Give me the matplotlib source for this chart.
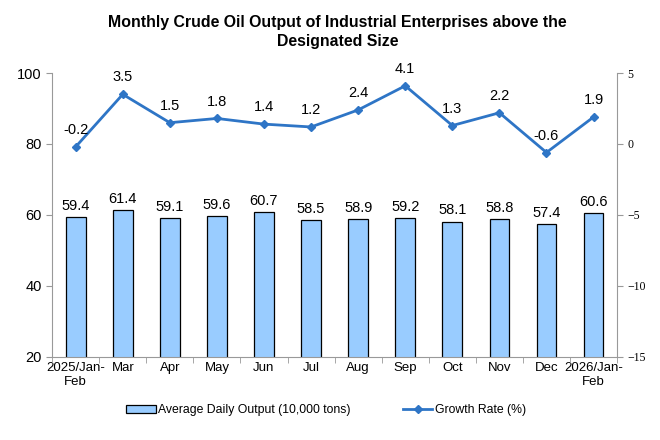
import matplotlib
matplotlib.use("Agg")
import matplotlib.pyplot as plt
import numpy as np

plt.rcParams['font.family'] = ['Liberation Sans', 'DejaVu Sans']

months = ['2025/Jan-\nFeb', 'Mar', 'Apr', 'May', 'Jun', 'Jul', 'Aug', 'Sep',
          'Oct', 'Nov', 'Dec', '2026/Jan-\nFeb']
output = [59.4, 61.4, 59.1, 59.6, 60.7, 58.5, 58.9, 59.2, 58.1, 58.8, 57.4, 60.6]
growth = [-0.2, 3.5, 1.5, 1.8, 1.4, 1.2, 2.4, 4.1, 1.3, 2.2, -0.6, 1.9]

fig = plt.figure(figsize=(6.6, 4.4), dpi=100)
ax = fig.add_axes([0.079, 0.189, 0.856, 0.645])
x = np.arange(len(months))

bars = ax.bar(x, output, width=0.42, color='#99CCFF', edgecolor='black',
              linewidth=0.9, label='Average Daily Output (10,000 tons)', zorder=2)
for xi, v in zip(x, output):
    ax.text(xi, v + 1.2, f'{v}', ha='center', va='bottom', fontsize=10.5)

ax.set_ylim(20, 100)
ax.set_yticks([20, 40, 60, 80, 100])
ax.set_xlim(-0.5, len(months) - 0.5)
ax.set_xticks(x)
ax.set_xticklabels(months, fontsize=9.5)
ax.set_xticks(np.arange(-0.5, len(months), 1), minor=True)
ax.tick_params(axis='x', which='major', length=0, pad=4)
ax.tick_params(axis='x', which='minor', length=4, color='#999999')
ax.tick_params(axis='y', labelsize=10.5, length=4, color='#999999')
for s in ['top', 'right']:
    ax.spines[s].set_visible(False)
for s in ['left', 'bottom']:
    ax.spines[s].set_color('#999999')

ax2 = ax.twinx()
line, = ax2.plot(x, growth, color='#2E75C6', linewidth=2, marker='D',
                 markersize=4, label='Growth Rate (%)', zorder=3)
for xi, v in zip(x, growth):
    ax2.text(xi, v + 0.7, f'{v}', ha='center', va='bottom', fontsize=10.5)
ax2.set_ylim(-15, 5)
ax2.set_yticks([5, 0, -5, -10, -15])
ax2.tick_params(axis='y', length=4, color='#999999', labelsize=8.5)
for lab in ax2.get_yticklabels():
    lab.set_fontfamily('Liberation Serif')
for s in ['top', 'left', 'bottom']:
    ax2.spines[s].set_visible(False)
ax2.spines['right'].set_color('#999999')

fig.text(0.511, 0.965, 'Monthly Crude Oil Output of Industrial Enterprises above the\nDesignated Size',
         ha='center', va='top', fontsize=11.4, fontweight='bold', linespacing=1.3)

fig.legend([bars, line], ['Average Daily Output (10,000 tons)', 'Growth Rate (%)'],
           loc='center', bbox_to_anchor=(0.494, 0.068), ncol=2, frameon=False,
           fontsize=8.8, columnspacing=4.3, handlelength=2.4, handletextpad=0.2,
           handleheight=0.6)

fig.savefig('out.png', dpi=100)
